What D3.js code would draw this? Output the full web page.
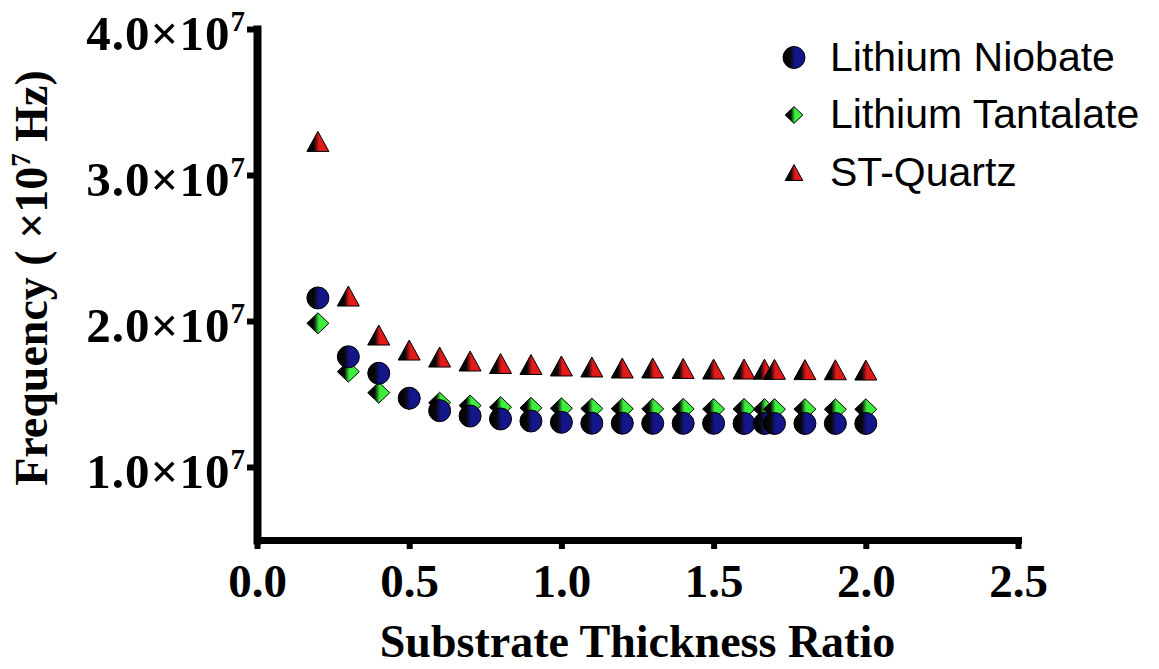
<!DOCTYPE html>
<html>
<head>
<meta charset="utf-8">
<script src="https://cdn.jsdelivr.net/npm/d3@7"></script>
<style>
	body { margin: 0; background: #fff; }
	.axis path, .axis line { stroke: #000; }
	.tick-label { font-family: "Liberation Serif", "Times New Roman", serif; font-weight: bold; fill: #000; }
	.title { font-family: "Liberation Serif", "Times New Roman", serif; font-weight: bold; font-size: 46px; fill: #000; }
	.legend-text { font-family: "Liberation Sans", Arial, sans-serif; font-size: 41px; fill: #000; }
</style>
</head>
<body>
<div id="chart"></div>
<script>
// substrate thickness ratio (x)
var thickness = [0.2, 0.3, 0.4, 0.5, 0.6, 0.7, 0.8, 0.9, 1.0, 1.1, 1.2, 1.3, 1.4, 1.5, 1.6, 1.667, 1.7, 1.8, 1.9, 2.0];

// frequency in Hz
var niobate = [2.158e7, 1.755e7, 1.642e7, 1.471e7, 1.386e7, 1.349e7, 1.329e7, 1.315e7, 1.306e7, 1.300e7,
	1.300e7, 1.299e7, 1.299e7, 1.299e7, 1.298e7, 1.298e7, 1.298e7, 1.298e7, 1.298e7, 1.298e7];
var tantalate = [1.984e7, 1.653e7, 1.509e7, 1.465e7, 1.440e7, 1.421e7, 1.410e7, 1.405e7, 1.402e7, 1.400e7,
	1.399e7, 1.398e7, 1.398e7, 1.397e7, 1.397e7, 1.396e7, 1.396e7, 1.396e7, 1.395e7, 1.395e7];
var quartz = [3.23e7, 2.171e7, 1.904e7, 1.801e7, 1.753e7, 1.726e7, 1.709e7, 1.702e7, 1.692e7, 1.685e7,
	1.678e7, 1.678e7, 1.675e7, 1.671e7, 1.671e7, 1.670e7, 1.669e7, 1.667e7, 1.666e7, 1.664e7];

var seriesNames = ["Lithium Niobate", "Lithium Tantalate", "ST-Quartz"];
var seriesColors = ["#15158a", "#3dee3d", "#e31a1a"];
var xTicks = [0, 0.5, 1.0, 1.5, 2.0, 2.5];
var yTicks = [1e7, 2e7, 3e7, 4e7];

var width = 1159, height = 669;

var svg = d3.select("#chart")
	.append("svg")
	.attr("width", width)
	.attr("height", height);

svg.append("rect").attr("width", width).attr("height", height).attr("fill", "#fff");

// Scales
var xScale = d3.scaleLinear()
	.domain([0, 2.5])
	.range([257, 1018]);

var yScale = d3.scaleLinear()
	.domain([0.5e7, 4e7])
	.range([540, 29]);

// gradients : dark left half, coloured right half
var defs = svg.append("defs");
seriesColors.forEach(function(c, i) {
	var g = defs.append("linearGradient")
		.attr("id", "grad" + i)
		.attr("x1", 0).attr("x2", 1).attr("y1", 0).attr("y2", 0);
	g.append("stop").attr("offset", "0%").attr("stop-color", "#000");
	g.append("stop").attr("offset", "32%").attr("stop-color", "#080808");
	g.append("stop").attr("offset", "55%").attr("stop-color", c);
	g.append("stop").attr("offset", "100%").attr("stop-color", c);
});

// marker shapes (centred on bounding box)
function circlePath(s) {
	var r = 11 * s;
	return "M" + (-r) + ",0A" + r + "," + r + " 0 1,0 " + r + ",0A" + r + "," + r + " 0 1,0 " + (-r) + ",0Z";
}
function diamondPath(s) {
	var w = 11 * s, h = 10.5 * s;
	return "M0," + (-h) + "L" + w + ",0L0," + h + "L" + (-w) + ",0Z";
}
function trianglePath(s) {
	var w = 11 * s, h = 10 * s;
	return "M0," + (-h) + "L" + w + "," + h + "L" + (-w) + "," + h + "Z";
}
var shapes = [circlePath, diamondPath, trianglePath];

// Axes
var yAxis = d3.axisLeft(yScale)
	.tickValues(yTicks)
	.tickSize(10)
	.tickSizeOuter(0)
	.tickFormat("");

var xAxis = d3.axisBottom(xScale)
	.tickValues(xTicks)
	.tickSize(9)
	.tickSizeOuter(0)
	.tickFormat("");

var gy = svg.append("g")
	.attr("class", "axis")
	.attr("transform", "translate(" + xScale(0) + ",0)")
	.call(yAxis);
gy.select(".domain").attr("stroke-width", 8).attr("stroke-linecap", "square");
gy.selectAll(".tick line").attr("stroke-width", 6);

var gx = svg.append("g")
	.attr("class", "axis")
	.attr("transform", "translate(0," + yScale(0.5e7) + ")")
	.call(xAxis);
gx.select(".domain").attr("stroke-width", 7).attr("stroke-linecap", "square");
gx.selectAll(".tick line").attr("stroke-width", 6);

// y tick labels  n.0×10^7
gy.selectAll(".tick").each(function(d) {
	var t = d3.select(this).append("text")
		.attr("class", "tick-label")
		.attr("x", -12)
		.attr("y", 20)
		.attr("text-anchor", "end");
	t.append("tspan").attr("font-size", "49px").attr("letter-spacing", "1px").text((d / 1e7).toFixed(1) + "\u00d710");
	t.append("tspan").attr("font-size", "29px").attr("dy", -19).text("7");
});

// x tick labels
gx.selectAll(".tick").append("text")
	.attr("class", "tick-label")
	.attr("y", 57)
	.attr("text-anchor", "middle")
	.attr("font-size", "47px")
	.text(function(d) { return d.toFixed(1); });

// titles
svg.append("text")
	.attr("class", "title")
	.attr("x", (xScale(0) + xScale(2.5)) / 2)
	.attr("y", 657)
	.attr("text-anchor", "middle")
	.text("Substrate Thickness Ratio");

var yt = svg.append("text")
	.attr("class", "title")
	.attr("font-size", "47px")
	.attr("transform", "translate(47,278) rotate(-90)")
	.attr("text-anchor", "middle");
yt.append("tspan").text("Frequency ( \u00d710");
yt.append("tspan").attr("font-size", "27px").attr("dy", -17).text("7");
yt.append("tspan").attr("dy", 17).text(" Hz)");

// Scatter points (quartz first, niobate on top)
var allSeries = [niobate, tantalate, quartz];
[2, 1, 0].forEach(function(i) {
	svg.append("g")
		.selectAll("path")
		.data(allSeries[i])
		.enter()
		.append("path")
		.attr("d", shapes[i](1))
		.attr("transform", function(d, j) {
			return "translate(" + xScale(thickness[j]) + "," + yScale(d) + ")";
		})
		.attr("fill", "url(#grad" + i + ")")
		.attr("stroke", "#000")
		.attr("stroke-width", 1);
});

// Legend
var legend = svg.append("g");
var legendScale = [1, 0.8, 0.8];
seriesNames.forEach(function(name, i) {
	var cy = 57.5 + i * 57.5;
	legend.append("path")
		.attr("d", shapes[i](legendScale[i]))
		.attr("transform", "translate(794," + cy + ")")
		.attr("fill", "url(#grad" + i + ")")
		.attr("stroke", "#000")
		.attr("stroke-width", 1);
	legend.append("text")
		.attr("class", "legend-text")
		.attr("x", 830)
		.attr("y", cy + 13)
		.text(name);
});
</script>
</body>
</html>
